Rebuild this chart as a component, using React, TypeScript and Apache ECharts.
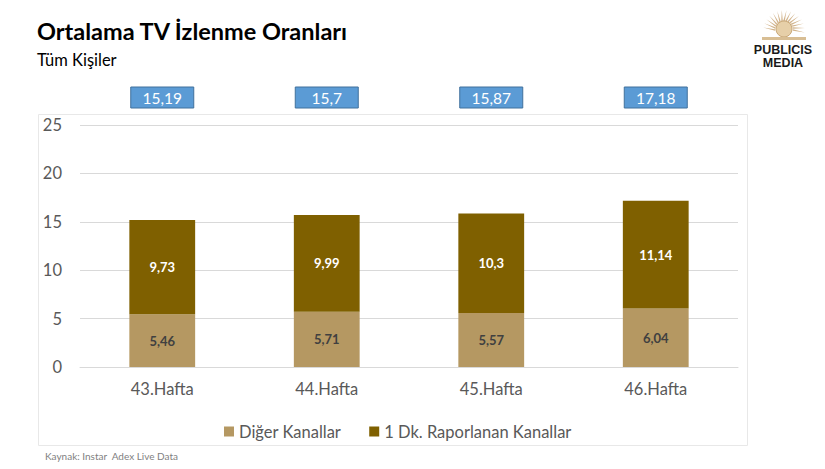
import React, { useEffect, useRef } from "react";
import * as echarts from "echarts";

const categories = ["43.Hafta", "44.Hafta", "45.Hafta", "46.Hafta"];
const digerKanallar = [5.46, 5.71, 5.57, 6.04];
const raporlananKanallar = [9.73, 9.99, 10.3, 11.14];
const yTicks = { min: 0, max: 25, interval: 5 };

const FONT = "Lato, 'Open Sans', sans-serif";
const fmt = (v: number) => String(Math.round(v * 100) / 100).replace(".", ",");

export default function App() {
  const ref = useRef<HTMLDivElement>(null);
  useEffect(() => {
    const chart = echarts.init(ref.current!, null, { renderer: "svg" });
    const totals = categories.map((_, i) => digerKanallar[i] + raporlananKanallar[i]);

    // decorative sun logo rays
    const cx = 784, cy = 30;
    const rays: any[] = [];
    for (let k = 0; k < 15; k++) {
      const a = Math.PI + (k / 14) * Math.PI;
      const a1 = a - 0.09, a2 = a + 0.09;
      rays.push({
        type: "polygon",
        shape: {
          points: [
            [cx + 9 * Math.cos(a1), cy + 9 * Math.sin(a1)],
            [cx + 21 * Math.cos(a + 0.12), cy + 20 * Math.sin(a + 0.12)],
            [cx + 9 * Math.cos(a2), cy + 9 * Math.sin(a2)],
          ],
        },
        style: { fill: "#D2B48C" },
        silent: true,
      });
    }

    chart.setOption({
      animation: false,
      textStyle: { fontFamily: FONT },
      grid: { left: 80, right: 87, top: 125, bottom: 102 },
      legend: {
        left: 219,
        top: 418,
        itemWidth: 10,
        itemHeight: 10,
        itemGap: 28,
        icon: "rect",
        textStyle: { fontSize: 16.5, color: "#595959", fontFamily: FONT },
        data: ["Diğer Kanallar", "1 Dk. Raporlanan Kanallar"],
      },
      xAxis: {
        type: "category",
        data: categories,
        axisLine: { show: true, lineStyle: { color: "#D9D9D9" } },
        axisTick: { show: false },
        axisLabel: { fontSize: 16.5, color: "#595959", margin: 13, fontFamily: FONT },
      },
      yAxis: {
        type: "value",
        min: yTicks.min,
        max: yTicks.max,
        interval: yTicks.interval,
        axisLine: { show: false },
        axisTick: { show: false },
        splitLine: { lineStyle: { color: "#D9D9D9" } },
        axisLabel: { fontSize: 16.5, color: "#595959", margin: 18, fontFamily: FONT },
      },
      series: [
        {
          name: "Diğer Kanallar",
          type: "bar",
          stack: "t",
          barWidth: "40%",
          data: digerKanallar,
          itemStyle: { color: "#B59862" },
          label: {
            show: true,
            position: "inside",
            formatter: (p: any) => fmt(p.value),
            fontSize: 13,
            fontWeight: "bold",
            color: "#404040",
            fontFamily: FONT,
          },
        },
        {
          name: "1 Dk. Raporlanan Kanallar",
          type: "bar",
          stack: "t",
          barWidth: "40%",
          data: raporlananKanallar,
          itemStyle: { color: "#7F6000" },
          label: {
            show: true,
            position: "inside",
            formatter: (p: any) => fmt(p.value),
            fontSize: 13,
            fontWeight: "bold",
            color: "#FFFFFF",
            fontFamily: FONT,
          },
        },
        {
          name: "Toplam",
          type: "custom",
          clip: false,
          silent: true,
          z: 10,
          data: totals.map((t, i) => [i, t]),
          renderItem: (params: any, api: any) => {
            const x = api.coord([api.value(0), 0])[0];
            const w = 63, h = 21;
            return {
              type: "group",
              children: [
                {
                  type: "rect",
                  shape: { x: x - w / 2, y: 87, width: w, height: h },
                  style: { fill: "#5B9BD5", stroke: "#41719C", lineWidth: 1 },
                },
                {
                  type: "text",
                  x: x,
                  y: 97.5,
                  style: {
                    text: fmt(api.value(1)),
                    fill: "#FFFFFF",
                    fontSize: 15.5,
                    fontFamily: FONT,
                    align: "center",
                    verticalAlign: "middle",
                  },
                },
              ],
            };
          },
        },
      ],
      graphic: [
        {
          type: "rect",
          shape: { x: 38.5, y: 114.5, width: 709, height: 331 },
          style: { fill: "none", stroke: "#E8E8E8", lineWidth: 1 },
          silent: true,
          z: -1,
        },
        {
          type: "text",
          left: 37,
          top: 19,
          style: { text: "Ortalama TV İzlenme Oranları", fontSize: 23.5, fontWeight: "bold", fill: "#000000", fontFamily: FONT },
        },
        {
          type: "text",
          left: 37,
          top: 51,
          style: { text: "Tüm Kişiler", fontSize: 16.5, fill: "#000000", fontFamily: FONT },
        },
        {
          type: "text",
          left: 45,
          top: 451,
          style: { text: "Kaynak: Instar  Adex Live Data", fontSize: 10, fill: "#7F7F7F", fontFamily: FONT },
        },
        ...rays,
        {
          type: "circle",
          shape: { cx, cy: cy - 1, r: 8 },
          style: { fill: "#E6CFA8", stroke: "#C9A877", lineWidth: 1 },
          silent: true,
        },
        {
          type: "rect",
          shape: { x: 762, y: 37, width: 44, height: 3 },
          style: { fill: "#D8BE94" },
          silent: true,
        },
        {
          type: "text",
          x: 783,
          y: 50,
          style: { text: "PUBLICIS", fontSize: 12.5, fontWeight: "bold", fill: "#1A1A1A", fontFamily: "'Liberation Sans', Arial, sans-serif", align: "center", verticalAlign: "middle" },
        },
        {
          type: "text",
          x: 783,
          y: 62.5,
          style: { text: "MEDIA", fontSize: 12.5, fontWeight: "bold", fill: "#1A1A1A", fontFamily: "'Liberation Sans', Arial, sans-serif", align: "center", verticalAlign: "middle" },
        },
      ],
    });
    return () => chart.dispose();
  }, []);
  return <div ref={ref} style={{ width: 825, height: 469, position: "absolute", left: 0, top: 0 }} />;
}
